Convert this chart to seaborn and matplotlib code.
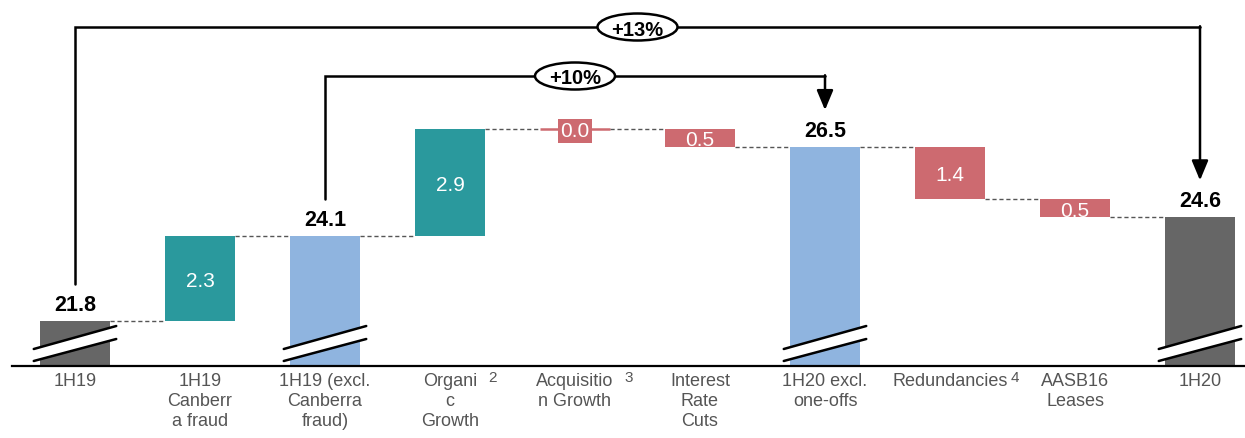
import numpy as np
import matplotlib
matplotlib.use("Agg")
import matplotlib.pyplot as plt
import matplotlib.patches as mpatches
import seaborn as sns

# ---- data ----
categories = ["1H19", "1H19 Canberra fraud", "1H19 (excl. Canberra fraud)",
              "Organic Growth", "Acquisition Growth", "Interest Rate Cuts",
              "1H20 excl. one-offs", "Redundancies", "AASB16 Leases", "1H20"]
tick_labels = ["1H19", "1H19\nCanberr\na fraud", "1H19 (excl.\nCanberra\nfraud)",
               "Organi\nc\nGrowth", "Acquisitio\nn Growth", "Interest\nRate\nCuts",
               "1H20 excl.\none-offs", "Redundancies", "AASB16\nLeases", "1H20"]
footnotes = ["", "", "", "2", "3", "", "", "4", "", ""]
values = [21.8, 2.3, 24.1, 2.9, 0.0, 0.5, 26.5, 1.4, 0.5, 24.6]
kinds = ["total", "up", "total", "up", "down", "down", "total", "down", "down", "total"]
bar_colors = ["#666666", "#2A999D", "#8FB4DF", "#2A999D", "#CD6A70", "#CD6A70",
              "#8FB4DF", "#CD6A70", "#CD6A70", "#666666"]
growth_labels = ["+13%", "+10%"]
growth_from = [0, 2]
growth_to = [9, 6]

# ---- waterfall geometry from data ----
bottoms, heights, level_after = [], [], []
running = 0.0
for v, k in zip(values, kinds):
    if k == "total":
        bottoms.append(0.0); heights.append(v); running = v
    elif k == "up":
        bottoms.append(running); heights.append(v); running += v
    else:
        bottoms.append(running - v); heights.append(v); running -= v
    level_after.append(running)
tops = [b + h for b, h in zip(bottoms, heights)]

sns.set_style("white")
plt.rcParams["font.family"] = ["Liberation Sans", "DejaVu Sans"]

W, H = 1245, 439
fig = plt.figure(figsize=(W / 100, H / 100), dpi=100)
ax = fig.add_axes([12 / W, 1 - 367 / H, 1 - 12 / W, 367 / H])

BW = 0.56
sns.barplot(x=categories, y=heights, hue=categories, palette=bar_colors,
            order=categories, hue_order=categories, width=BW, saturation=1,
            legend=False, ax=ax)
patches = sorted(ax.patches, key=lambda p: p.get_x())
for p, b, h, c in zip(patches, bottoms, heights, bar_colors):
    p.set_y(b)
    p.set_height(h)
    p.set_edgecolor("none")
    if h == 0:
        p.set_edgecolor(c)
        p.set_linewidth(1.8)

ylow = 21.8 - 45 / 37
ax.set_ylim(ylow, ylow + 367 / 37)
ax.set_xlim(-0.504, 9.36)

# spines / ticks
for s in ["left", "right", "top"]:
    ax.spines[s].set_visible(False)
ax.spines["bottom"].set_color("black")
ax.spines["bottom"].set_linewidth(1.6)
ax.set_yticks([])
ax.set_xticks(range(len(categories)))
ax.set_xticklabels(tick_labels, fontsize=13, color="#555555", linespacing=1.25)
ax.tick_params(axis="x", length=0, pad=4)
ax.set_xlabel(""); ax.set_ylabel("")

# footnote superscripts
sup_dx = {3: 0.34, 4: 0.43, 7: 0.52}
for i, fn in enumerate(footnotes):
    if fn:
        ax.text(i + sup_dx[i], -0.012, fn, transform=ax.get_xaxis_transform(),
                ha="center", va="top", fontsize=11, color="#555555")

# dashed connectors
for i in range(len(values) - 1):
    lvl = level_after[i]
    ax.plot([i + BW / 2, i + 1 - BW / 2], [lvl, lvl], color="#555555",
            lw=1.0, ls=(0, (3, 2)), zorder=1)

# value labels
for i, (v, k) in enumerate(zip(values, kinds)):
    if k == "total":
        ax.annotate(f"{v:.1f}", (i, tops[i]), xytext=(0, 8), textcoords="offset points",
                    ha="center", va="baseline", fontsize=15.5, fontweight="bold",
                    color="black", zorder=5)
    else:
        mid = bottoms[i] + heights[i] / 2
        kw = {}
        if heights[i] == 0:
            kw["bbox"] = dict(boxstyle="square,pad=0.12", fc=bar_colors[i], ec="none")
        ax.text(i, mid, f"{v:.1f}", ha="center", va="center_baseline", fontsize=15,
                color="white", zorder=5, **kw)

# axis break marks on total bars
half = BW / 2 + 0.05
for i, k in enumerate(kinds):
    if k == "total":
        y_ul, y_ur = ylow + 17 / 37, ylow + 40 / 37
        y_ll, y_lr = ylow + 5 / 37, ylow + 27 / 37
        poly = mpatches.Polygon([[i - half, y_ll], [i + half, y_lr],
                                 [i + half, y_ur], [i - half, y_ul]],
                                closed=True, fc="white", ec="none", zorder=4)
        ax.add_patch(poly)
        ax.plot([i - half, i + half], [y_ul, y_ur], color="black", lw=1.8, zorder=5)
        ax.plot([i - half, i + half], [y_ll, y_lr], color="black", lw=1.8, zorder=5)

# growth brackets
bracket_levels = [ylow + (367 - 28) / 37, ylow + (367 - 77) / 37]
for lab, a, b, yl in zip(growth_labels, growth_from, growth_to, bracket_levels):
    ya = tops[a] + 1.0
    yb = tops[b] + 1.0
    ax.plot([a, a, b], [ya, yl, yl], color="black", lw=1.8, zorder=3,
            solid_joinstyle="miter")
    ax.annotate("", xy=(b, yb), xytext=(b, yl + 0.02),
                arrowprops=dict(arrowstyle="-|>,head_length=0.6,head_width=0.25",
                                mutation_scale=20, lw=1.8, color="black",
                                shrinkA=0, shrinkB=0), zorder=3)
    xm = (a + b) / 2
    ell = mpatches.Ellipse((xm, yl), width=80 / 125, height=27 / 37, fc="white",
                           ec="black", lw=1.8, zorder=6)
    ax.add_patch(ell)
    ax.text(xm, yl, lab, ha="center", va="center_baseline", fontsize=14.5,
            fontweight="bold", color="black", zorder=7)

fig.savefig("out.png", dpi=100)
